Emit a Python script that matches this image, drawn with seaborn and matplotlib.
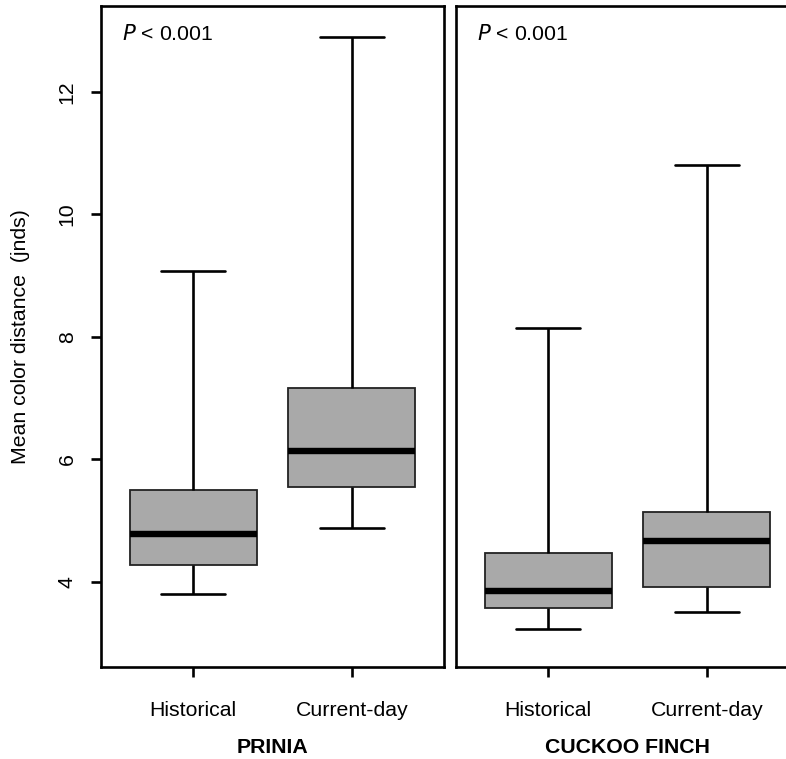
import numpy as np
import pandas as pd
import matplotlib
matplotlib.use("Agg")
import matplotlib.pyplot as plt
import seaborn as sns

sns.set_theme(style="white")
plt.rcParams['font.family'] = ['Liberation Sans', 'DejaVu Sans']
plt.rcParams['text.color'] = 'black'
plt.rcParams['axes.labelcolor'] = 'black'
plt.rcParams['xtick.color'] = 'black'
plt.rcParams['ytick.color'] = 'black'

# Data: five-number summaries (min, Q1, median, Q3, max)
periods = ["Historical", "Current-day"]
species = ["PRINIA", "CUCKOO FINCH"]
prinia_historical = [3.80, 4.28, 4.78, 5.50, 9.07]
prinia_current = [4.87, 5.54, 6.13, 7.17, 12.89]
finch_historical = [3.23, 3.57, 3.84, 4.47, 8.14]
finch_current = [3.50, 3.91, 4.66, 5.13, 10.80]
p_label = "< 0.001"
y_ticks = [4, 6, 8, 10, 12]

rows = []
for sp, hist, cur in [(species[0], prinia_historical, prinia_current),
                      (species[1], finch_historical, finch_current)]:
    for v in hist:
        rows.append((sp, periods[0], v))
    for v in cur:
        rows.append((sp, periods[1], v))
df = pd.DataFrame(rows, columns=["species", "period", "value"])

FS = 15.3
W, H = 786, 759
fig = plt.figure(figsize=(W / 100, H / 100), dpi=100)
ax_w = 343 / W
ax_b = (H - 667) / H
ax_h = 661 / H
axes = [fig.add_axes([101 / W, ax_b, ax_w, ax_h]),
        fig.add_axes([456 / W, ax_b, ax_w, ax_h])]

for ax, sp in zip(axes, species):
    sub = df[df["species"] == sp]
    sns.boxplot(data=sub, x="period", y="value", order=periods, ax=ax,
                whis=(0, 100), width=0.8, color="#a9a9a9", saturation=1,
                linecolor="black", linewidth=1.3,
                medianprops=dict(linewidth=4.6, color="black"),
                whiskerprops=dict(linewidth=1.9, color="black"),
                capprops=dict(linewidth=1.9, color="black"),
                boxprops=dict(linewidth=1.3, edgecolor="#222222"))
    ax.set_xlim(-0.58, 1.58)
    ax.set_ylim(2.607, 13.40)
    ax.set_xlabel(sp, fontsize=FS, fontweight="bold", labelpad=13)
    ax.set_ylabel("")
    for s in ax.spines.values():
        s.set_visible(True)
        s.set_color("black")
        s.set_linewidth(1.9)
    ax.tick_params(axis="x", which="major", direction="out", length=7.5,
                   width=1.9, color="black", labelsize=FS, pad=17,
                   bottom=True)
    ax.text(0.06, 0.957, "$\\it{P}$ " + p_label, transform=ax.transAxes,
            fontsize=FS, ha="left", va="center")

axes[0].set_yticks(y_ticks)
axes[0].set_yticklabels([str(t) for t in y_ticks], rotation=90, va="center")
axes[0].tick_params(axis="y", direction="out", length=7.5, width=1.9,
                    color="black", labelsize=FS, pad=10, left=True)
axes[0].set_ylabel("Mean color distance  (jnds)", fontsize=FS, labelpad=20)
axes[1].set_yticks([])

fig.savefig("out.png", dpi=100)
